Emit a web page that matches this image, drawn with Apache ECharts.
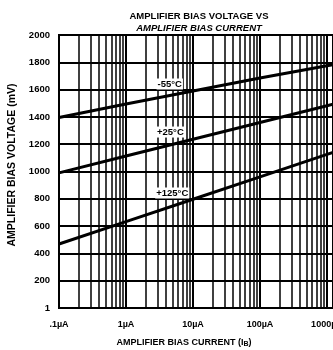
<!DOCTYPE html>
<html>
<head>
<meta charset="utf-8">
<script src="https://cdn.jsdelivr.net/npm/echarts@6/dist/echarts.min.js"></script>
<style>html,body{margin:0;padding:0;background:#fff}#c{width:333px;height:350px}</style>
</head>
<body>
<div id="c"></div>
<script>
// Data (bias current in µA, bias voltage in mV)
const currents = [0.1, 1, 10, 100, 1000, 1230];
const vMinus55 = [1395, 1495, 1590, 1685, 1775, 1783];
const vPlus25 = [990, 1113, 1236, 1359, 1482, 1493];
const vPlus125 = [469, 633, 797, 961, 1125, 1140];
const seriesNames = ['-55°C', '+25°C', '+125°C'];
// label anchor (current µA, voltage mV) for each curve tag
const tagCurrents = [4.5, 4.6, 4.9];
const tagVoltages = [1641, 1289, 842];
const xTickLabels = ['.1µA', '1µA', '10µA', '100µA', '1000µA'];
const yTickValues = [0, 200, 400, 600, 800, 1000, 1200, 1400, 1600, 1800, 2000];
const yTickLabels = ['1', '200', '400', '600', '800', '1000', '1200', '1400', '1600', '1800', '2000'];
const xMinCurrent = 0.1, xMaxCurrent = 1230;

const FONT = 'Liberation Sans';
const lg = Math.log10;

// minor log grid positions
const minor = [];
for (let d = -1; d <= 2; d++) for (let k = 2; k <= 9; k++) minor.push(lg(k * Math.pow(10, d)));

function mk(vals, i) {
  return {
    type: 'line', name: seriesNames[i],
    data: currents.map((c, j) => [lg(c), vals[j]]),
    symbol: 'none', smooth: false, z: 5,
    lineStyle: { color: '#000', width: 3 },
    markPoint: {
      symbol: 'rect', symbolSize: 0, silent: true, animation: false,
      data: [{ coord: [lg(tagCurrents[i]), tagVoltages[i]] }],
      label: {
        show: true, formatter: seriesNames[i], position: 'inside',
        color: '#000', fontFamily: FONT, fontWeight: 'bold', fontSize: 9.5,
        backgroundColor: '#fff', padding: [1, 1, 0, 1]
      }
    }
  };
}

const chart = echarts.init(document.getElementById('c'));
const grid = { left: 59, right: 0, top: 35, bottom: 42, show: true, borderColor: '#000', borderWidth: 2,
  containLabel: false, outerBoundsMode: 'none' };
chart.setOption({
  animation: false,
  backgroundColor: '#fff',
  title: [
    { text: 'AMPLIFIER BIAS VOLTAGE VS', left: 194, top: 6, textAlign: 'center',
      textStyle: { fontFamily: FONT, fontWeight: 'bold', fontSize: 9.5, color: '#000' } },
    { text: 'AMPLIFIER BIAS CURRENT', left: 194, top: 18, textAlign: 'center',
      textStyle: { fontFamily: FONT, fontWeight: 'bold', fontStyle: 'italic', fontSize: 9.5, color: '#000' } }
  ],
  grid: grid,
  xAxis: {
    type: 'value', min: lg(xMinCurrent), max: lg(xMaxCurrent), interval: 1,
    name: '{a|AMPLIFIER BIAS CURRENT (I}{s|B}{a|)}',
    nameLocation: 'middle', nameGap: 29,
    nameTextStyle: {
      padding: [0, 24, 0, 0],
      rich: {
        a: { fontFamily: FONT, fontWeight: 'bold', fontSize: 9, color: '#000' },
        s: { fontFamily: FONT, fontWeight: 'bold', fontSize: 7, color: '#000', verticalAlign: 'bottom', padding: [4, 0, 0, 0] }
      }
    },
    axisLine: { show: true, lineStyle: { color: '#000', width: 2 } },
    axisTick: { show: false },
    splitLine: { show: true, lineStyle: { color: '#000', width: 2 } },
    axisLabel: {
      margin: 12, color: '#000', fontFamily: FONT, fontWeight: 'bold', fontSize: 9,
      showMaxLabel: true, hideOverlap: false,
      formatter: function (v) {
        const r = Math.round(v);
        if (Math.abs(v - r) > 1e-6) return '';
        return xTickLabels[r + 1] || '';
      }
    }
  },
  yAxis: {
    type: 'value', min: 0, max: 2000, interval: 200,
    name: 'AMPLIFIER BIAS VOLTAGE (mV)', nameLocation: 'middle', nameGap: 39,
    nameTextStyle: { fontFamily: FONT, fontWeight: 'bold', fontSize: 10.5, color: '#000', padding: [0, 0, 0, 13] },
    axisLine: { show: true, lineStyle: { color: '#000', width: 2 } },
    axisTick: { show: false },
    splitLine: { show: true, lineStyle: { color: '#000', width: 2 } },
    axisLabel: {
      margin: 9, color: '#000', fontFamily: FONT, fontWeight: 'bold', fontSize: 9.5,
      formatter: function (v) { const i = yTickValues.indexOf(v); return i >= 0 ? yTickLabels[i] : ''; }
    }
  },
  series: [
    {
      type: 'line', data: [], silent: true, z: 1,
      markLine: {
        silent: true, animation: false, symbol: ['none', 'none'],
        label: { show: false },
        lineStyle: { color: '#000', width: 1.5, type: 'solid' },
        data: minor.map(v => ({ xAxis: v }))
      }
    },
    mk(vMinus55, 0), mk(vPlus25, 1), mk(vPlus125, 2)
  ]
});
</script>
</body>
</html>
